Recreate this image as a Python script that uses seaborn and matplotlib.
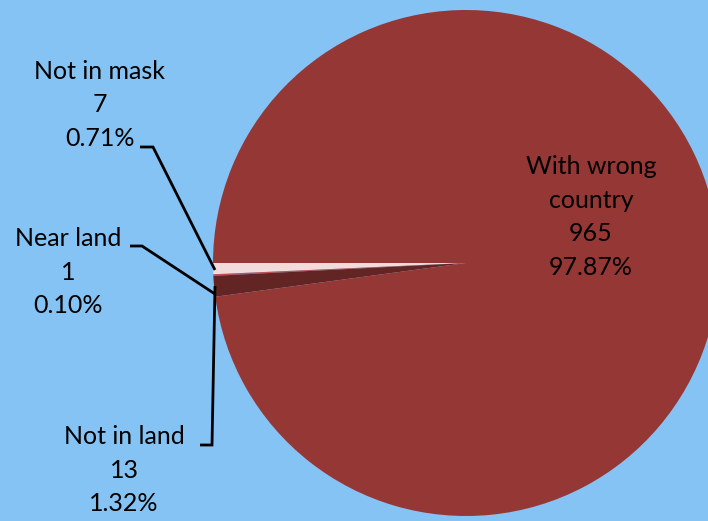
import numpy as np
import matplotlib
matplotlib.use("Agg")
import matplotlib.pyplot as plt
import seaborn as sns

# slice data, in drawing order (starting at the left, going down)
labels = ["Not in mask", "Near land", "Not in land", "With wrong\ncountry"]
counts = [7, 1, 13, 965]
pcts = ["0.71%", "0.10%", "1.32%", "97.87%"]
colors = ["#F2DCDB", "#C0504D", "#632523", "#953735"]
bg = "#85C3F4"

sns.set_style("white")
plt.rcParams["font.family"] = ["Lato", "DejaVu Sans"]

W, H = 708, 521
fig = plt.figure(figsize=(W / 100, H / 100), dpi=100)
fig.patch.set_facecolor(bg)
ax = fig.add_axes([0, 0, 1, 1])
ax.set_facecolor(bg)

cx, cy, r = 466, H - 263, 253
ax.pie(counts, colors=colors, startangle=180, counterclock=True,
       center=(cx, cy), radius=r, frame=True,
       wedgeprops=dict(linewidth=0))
ax.set_xlim(0, W)
ax.set_ylim(0, H)
ax.set_axis_off()

def txt(x, y, s, **kw):
    ax.text(x, H - y, s, ha="center", va="center", fontsize=18,
            color="black", linespacing=1.55, **kw)

txt(100, 105, f"{labels[0]}\n{counts[0]}\n{pcts[0]}")
txt(68, 272, f"{labels[1]}\n{counts[1]}\n{pcts[1]}")
txt(124, 470, f"{labels[2]}\n{counts[2]}\n{pcts[2]}")
txt(591, 217, f"{labels[3]}\n{counts[3]}\n{pcts[3]}")

def leader(xs, ys):
    ax.plot(xs, [H - y for y in ys], color="black", lw=2.0,
            solid_capstyle="butt", solid_joinstyle="miter")

leader([140, 153, 215], [147, 147, 270])
leader([130, 142, 215], [246, 246, 294])
leader([200, 212, 215], [445, 445, 286])

fig.savefig("out.png", dpi=100, facecolor=bg)
